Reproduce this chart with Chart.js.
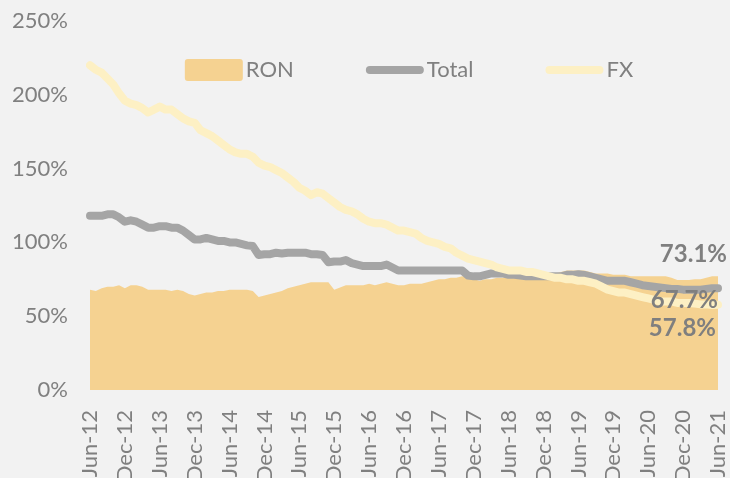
<!DOCTYPE html>
<html>
<head>
<meta charset="utf-8">
<script src="https://cdn.jsdelivr.net/npm/chart.js@4.4.1/dist/chart.umd.min.js"></script>
<style>
  html, body { margin: 0; padding: 0; background: #f2f2f2; overflow: hidden; }
  canvas { display: block; }
</style>
</head>
<body>
<canvas id="grafico" width="730" height="478"></canvas>
<script>
// ==================== DADOS ====================
const months = ["Jan", "Feb", "Mar", "Apr", "May", "Jun", "Jul", "Aug", "Sep", "Oct", "Nov", "Dec"];
const categories = [];
for (let y = 12; y <= 21; y++) {
  for (let m = 0; m < 12; m++) {
    if ((y === 12 && m < 5) || (y === 21 && m > 5)) continue;
    categories.push(months[m] + "-" + y);
  }
}

const seriesNames = ["RON", "Total", "FX"];

const ron = [
  68, 67, 69, 70, 70, 71, 69, 71, 71, 70,
  68, 68, 68, 68, 67, 68, 67, 65, 64, 65,
  66, 66, 67, 67, 68, 68, 68, 68, 67, 63,
  64, 65, 66, 67, 69, 70, 71, 72, 73, 73,
  73, 73, 68, 69.5, 71, 71, 71, 71, 72, 71,
  72, 73, 72, 71, 71, 72, 72, 72, 73, 74,
  75, 75, 76, 76, 77, 76, 75, 74, 75, 75,
  76, 76, 77, 77, 77, 77, 78, 78, 78, 78,
  79, 80, 81, 81, 81, 81, 80, 79, 79, 79,
  78, 78, 78, 77, 77, 77, 77, 77, 77, 77,
  76, 74.5, 74.5, 74.5, 75, 75, 76, 77, 77
];

const total = [
  118, 118, 118, 119, 119, 117, 114, 115, 114, 112,
  110, 110, 111, 111, 110, 110, 108, 105, 102, 102,
  103, 102, 101, 101, 100, 100, 99, 98, 97.5, 91.5,
  92, 92, 93, 92.5, 93, 93, 93, 93, 92, 92,
  91.5, 86.5, 87, 87, 88, 86, 85, 84, 84, 84,
  84, 85, 83, 81, 81, 81, 81, 81, 81, 81,
  81, 81, 81, 81, 81, 77.5, 77, 77, 78, 79,
  79, 79, 78, 78, 77.5, 77, 77, 77, 77, 77,
  77, 77, 78, 78, 78.5, 78, 77, 76, 75, 74,
  74, 74, 74, 73, 72, 71, 70.5, 70, 69.5, 69,
  68.5, 68.5, 68, 68, 68, 68, 68.5, 69, 69
];

const fx = [
  220, 217, 215, 211, 207, 201, 196, 194, 193, 191,
  188, 190, 192, 190, 190, 187, 184, 182, 181, 176,
  174, 172, 169, 166, 163, 161, 160, 160, 158, 154,
  152, 151, 149, 147, 144, 141, 137, 135, 132, 134,
  133, 130, 127, 124, 122, 121, 119, 116, 114, 113,
  113, 112, 110, 108, 108, 107, 106, 103, 101, 100,
  99, 97, 96, 93, 91, 89, 88, 87, 86, 85,
  83, 82, 81, 81, 81, 80, 80, 79, 78, 77,
  76, 76, 75, 75, 74, 74, 73, 72, 70, 68,
  67, 66, 66, 65, 64, 63, 62, 61, 60, 60,
  60, 59, 59, 59, 58.5, 58, 58, 57.5, 57.8
];

const endLabels = ["73.1%", "67.7%", "57.8%"];
const yTicks = [0, 50, 100, 150, 200, 250];

// ==================== ESTILO ====================
const cinza = "#808080";
const corRon = "#f5d291";
const corTotal = "#a5a5a5";
const corFx = "#fdf0c4";
const fonte = "Lato, sans-serif";

// posição dos rótulos finais (dx, dy em px relativos ao último ponto)
const endLabelOffset = [[9, -22], [0, 12], [-2, 24]];

const endLabelPlugin = {
  id: "endLabels",
  afterDatasetsDraw(chart) {
    const ctx = chart.ctx;
    ctx.save();
    ctx.font = "bold 24px " + fonte;
    ctx.fillStyle = "#7f7f7f";
    ctx.textAlign = "right";
    ctx.textBaseline = "middle";
    chart.data.datasets.forEach((ds, i) => {
      const meta = chart.getDatasetMeta(i);
      const last = meta.data[meta.data.length - 1];
      ctx.fillText(endLabels[i], last.x + endLabelOffset[i][0], last.y + endLabelOffset[i][1]);
    });
    ctx.restore();
  }
};

// ==================== LEGENDA (dentro da área) ====================
const legendInside = {
  id: "legendInside",
  afterDraw(chart) {
    const ctx = chart.ctx;
    const area = chart.chartArea;
    const boxW = 58, gapText = 3, gapItem = 72;
    const cy = area.top + 49;
    ctx.save();
    ctx.font = "22px " + fonte;
    ctx.textBaseline = "middle";
    const widths = chart.data.datasets.map((ds) => boxW + gapText + ctx.measureText(ds.label).width);
    const totalW = widths.reduce((a, b) => a + b, 0) + gapItem * (widths.length - 1);
    let x = (area.left + area.right) / 2 + 5 - totalW / 2;
    chart.data.datasets.forEach((ds, i) => {
      if (ds.fill) {
        ctx.fillStyle = ds.backgroundColor;
        ctx.beginPath();
        ctx.roundRect(x, cy - 11, boxW, 22, 3);
        ctx.fill();
      } else {
        ctx.strokeStyle = ds.borderColor;
        ctx.lineWidth = ds.borderWidth;
        ctx.lineCap = "round";
        ctx.beginPath();
        ctx.moveTo(x + 4, cy);
        ctx.lineTo(x + boxW - 4, cy);
        ctx.stroke();
      }
      ctx.fillStyle = cinza;
      ctx.fillText(ds.label, x + boxW + gapText, cy);
      x += widths[i] + gapItem;
    });
    ctx.restore();
  }
};

Chart.defaults.font.family = fonte;
Chart.defaults.color = cinza;

new Chart(document.getElementById("grafico"), {
  type: "line",
  data: {
    labels: categories,
    datasets: [
      {
        label: seriesNames[0],
        data: ron,
        fill: "origin",
        backgroundColor: corRon,
        borderColor: corRon,
        borderWidth: 0,
        pointRadius: 0,
        order: 3
      },
      {
        label: seriesNames[1],
        data: total,
        fill: false,
        borderColor: corTotal,
        backgroundColor: corTotal,
        borderWidth: 8,
        borderJoinStyle: "round",
        borderCapStyle: "round",
        pointRadius: 0,
        order: 2
      },
      {
        label: seriesNames[2],
        data: fx,
        fill: false,
        borderColor: corFx,
        backgroundColor: corFx,
        borderWidth: 8,
        borderJoinStyle: "round",
        borderCapStyle: "round",
        pointRadius: 0,
        order: 1
      }
    ]
  },
  options: {
    responsive: false,
    animation: false,
    devicePixelRatio: 1,
    layout: { padding: { left: 0, right: 12, top: 21, bottom: 0 } },
    plugins: {
      tooltip: { enabled: false },
      legend: { display: false }
    },
    scales: {
      x: {
        grid: { display: false, drawTicks: false },
        border: { display: false },
        afterFit(scale) {
          scale.height = 88;
          scale.paddingLeft = 0;
          scale.paddingRight = 0;
        },
        ticks: {
          autoSkip: false,
          maxRotation: 90,
          minRotation: 90,
          padding: 20,
          color: cinza,
          font: { size: 22 },
          callback: (val, idx) => (idx % 6 === 0 ? categories[idx] : "")
        }
      },
      y: {
        min: yTicks[0],
        max: yTicks[yTicks.length - 1],
        grid: { display: false, drawTicks: false },
        border: { display: false },
        afterFit(scale) {
          scale.width = 90;
          scale.paddingTop = 0;
          scale.paddingBottom = 0;
        },
        afterBuildTicks(scale) { scale.ticks = yTicks.map((v) => ({ value: v })); },
        ticks: {
          padding: 22,
          color: cinza,
          font: { size: 22 },
          callback: (v) => v + "%"
        }
      }
    }
  },
  plugins: [endLabelPlugin, legendInside]
});
</script>
</body>
</html>
